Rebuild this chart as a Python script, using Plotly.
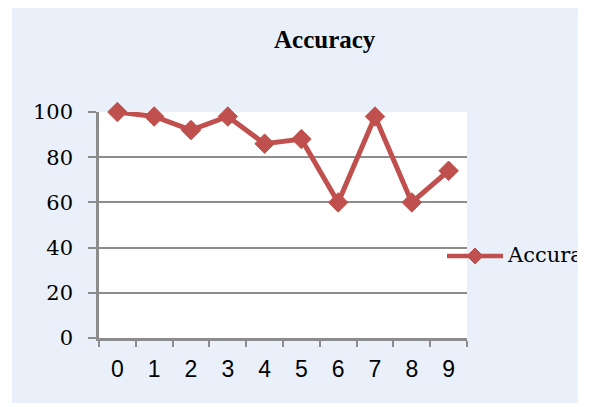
import plotly.graph_objects as go

categories = ["0", "1", "2", "3", "4", "5", "6", "7", "8", "9"]
accuracy = [100, 98, 92, 98, 86, 88, 60, 98, 60, 74]
y_ticks = [0, 20, 40, 60, 80, 100]
series_name = "Accuracy"
title_text = "Accuracy"

OFF = 8  # page body margin offset
W, H = 590 - OFF, 407 - OFF
L, R, T, B = 99 - OFF, 467 - OFF, 112 - OFF, 338 - OFF  # plot area in figure pixels
pw, ph = R - L, B - T

def px_x(x):
    return (x - OFF - L) / pw

def px_y(y):
    return (B - (y - OFF)) / ph

RED = "#C0504D"
GRID = "#8C8C8C"

fig = go.Figure()
fig.add_trace(go.Scatter(
    x=categories, y=accuracy, mode="lines+markers", name=series_name,
    line=dict(color=RED, width=5),
    marker=dict(symbol="diamond", size=15, color=RED, line=dict(color=RED, width=1)),
    showlegend=False, cliponaxis=False,
))

shapes = [
    dict(type="rect", xref="paper", yref="paper", layer="below",
         x0=px_x(12), x1=px_x(578), y0=px_y(403), y1=px_y(8),
         fillcolor="#EAF0F9", line=dict(width=0)),
    dict(type="rect", xref="paper", yref="paper", layer="below",
         x0=0, x1=1, y0=0, y1=1, fillcolor="white", line=dict(width=0)),
    dict(type="line", xref="paper", yref="paper",
         x0=px_x(447), x1=px_x(503), y0=px_y(256), y1=px_y(256),
         line=dict(color=RED, width=4.5)),
    dict(type="path", xref="paper", yref="paper", xsizemode="pixel", ysizemode="pixel",
         xanchor=px_x(475), yanchor=px_y(256),
         path="M-8,0 L0,8 L8,0 L0,-8 Z", fillcolor=RED, line=dict(color=RED, width=1)),
]

annotations = [
    dict(text=series_name, xref="paper", yref="paper", x=px_x(505), y=px_y(255),
         xanchor="left", yanchor="middle", showarrow=False, width=70, align="left",
         font=dict(family="DejaVu Serif", size=21, color="black")),
    dict(text="<b>" + title_text + "</b>", xref="paper", yref="paper",
         x=px_x(325), y=px_y(39), xanchor="center", yanchor="middle", showarrow=False,
         font=dict(family="Liberation Serif", size=25, color="black")),
]

fig.update_layout(
    width=W, height=H,
    margin=dict(l=L, r=W - R, t=T, b=H - B, pad=0),
    paper_bgcolor="white", plot_bgcolor="rgba(0,0,0,0)",
    shapes=shapes, annotations=annotations,
    xaxis=dict(type="category", range=[-0.5, 9.5], tickson="boundaries",
               showline=True, linecolor=GRID, linewidth=2.5,
               ticks="outside", ticklen=6, tickwidth=2, tickcolor=GRID,
               showgrid=False, zeroline=False,
               tickfont=dict(family="Liberation Sans", size=23, color="black"),
               ticklabelstandoff=9),
    yaxis=dict(range=[0, 100], tickvals=y_ticks, ticktext=[str(v) for v in y_ticks],
               showline=True, linecolor=GRID, linewidth=2.5,
               ticks="outside", ticklen=8, tickwidth=2, tickcolor=GRID,
               showgrid=True, gridcolor=GRID, gridwidth=2, zeroline=False,
               tickfont=dict(family="DejaVu Serif", size=21, color="black"),
               ticklabelstandoff=11),
    showlegend=False,
)

fig.write_html("out.html")
